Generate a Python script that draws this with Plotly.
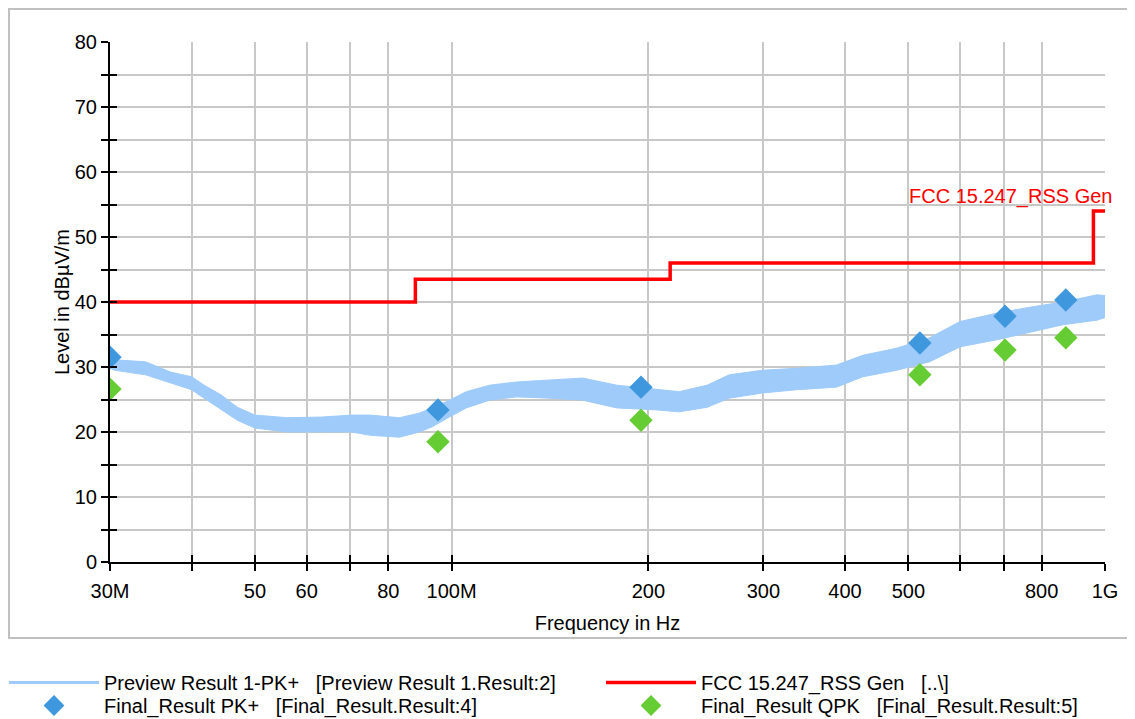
import numpy as np
import plotly.graph_objects as go

# ---------------- data ----------------
preview_freq_mhz = [30, 30.5, 34.0, 37.2, 40.0, 41.8, 44.4, 47.0, 50.0, 56.0, 63.2, 70.3, 75.0,
                    83.2, 89.2, 93.4, 99.2, 105.3, 114.3, 125.8, 141.3, 158.7, 179, 206, 223,
                    246, 266, 299, 337, 388, 426, 480, 539, 600, 684, 768, 862, 972, 1000]
preview_upper = [31.2, 31.1, 30.8, 29.2, 28.5, 27.2, 25.7, 23.8, 22.6, 22.2, 22.3, 22.6, 22.6,
                 22.2, 22.9, 23.7, 24.9, 26.2, 27.2, 27.7, 28.0, 28.3, 27.2, 26.5, 26.2,
                 27.2, 28.8, 29.5, 29.8, 30.3, 31.8, 32.9, 34.5, 37.0, 38.3, 39.2, 40.0, 41.1, 41.0]
preview_lower = [29.8, 29.5, 28.8, 27.5, 26.5, 25.2, 23.4, 21.8, 20.6, 20.0, 20.0, 20.0, 19.5,
                 19.2, 20.0, 20.8, 22.3, 23.7, 24.9, 25.4, 25.2, 24.9, 23.7, 23.4, 23.1,
                 23.8, 25.2, 26.0, 26.5, 26.9, 28.5, 29.5, 30.8, 33.1, 34.2, 35.4, 36.5, 37.2, 37.6]

limit_freq_mhz = [30, 88, 88, 216, 216, 960, 960, 1000]
limit_level = [40, 40, 43.5, 43.5, 46, 46, 54, 54]

final_freq_mhz = [30.0, 95.3, 194.9, 520.8, 703.0, 871.0]
final_pk = [31.5, 23.4, 26.9, 33.7, 37.8, 40.3]
final_qpk = [26.6, 18.5, 21.8, 28.8, 32.6, 34.5]

x_tick_mhz = [30, 40, 50, 60, 70, 80, 100, 200, 300, 400, 500, 600, 700, 800, 1000]
x_tick_text = ["30M", "", "50", "60", "", "80", "100M", "200", "300", "400", "500", "", "", "800", "1G"]
y_tick_vals = list(range(0, 81, 5))
y_tick_text = [str(v) if v % 10 == 0 else "" for v in y_tick_vals]

# ---------------- figure ----------------
MHZ = 1e6
pf = np.array(preview_freq_mhz) * MHZ
lf = np.array(limit_freq_mhz) * MHZ
ff = np.array(final_freq_mhz) * MHZ
xt = np.array(x_tick_mhz) * MHZ

FONT = "Liberation Sans, Arial, sans-serif"
BAND = "#9ecbfa"
FS = 20

# the page body adds an 8px offset; positions below are page positions minus that offset
OFF = 8
PL, PR, PT, PB = 110 - OFF, 1105 - OFF, 42 - OFF, 562 - OFF
PW, PH = PR - PL, PB - PT


def px_x(p):
    return (p - OFF - PL) / PW


def px_y(p):
    return (PB - (p - OFF)) / PH


fig = go.Figure()

fig.add_trace(go.Scatter(x=pf, y=preview_lower, mode="lines", line=dict(color=BAND, width=1),
                         showlegend=False, hoverinfo="skip"))
fig.add_trace(go.Scatter(x=pf, y=preview_upper, mode="lines", line=dict(color=BAND, width=1),
                         fill="tonexty", fillcolor=BAND, showlegend=False, hoverinfo="skip"))
# legend entry for preview trace
fig.add_trace(go.Scatter(x=[None], y=[None], mode="lines", line=dict(color=BAND, width=3),
                         name="Preview Result 1-PK+   [Preview Result 1.Result:2]", legend="legend"))
fig.add_trace(go.Scatter(x=lf, y=limit_level, mode="lines", line=dict(color="#ff0000", width=3.5),
                         name="FCC 15.247_RSS Gen   [..\\]", legend="legend2"))
fig.add_trace(go.Scatter(x=ff, y=final_pk, mode="markers",
                         marker=dict(symbol="diamond", size=18, color="#3f98dd"),
                         name="Final_Result PK+   [Final_Result.Result:4]", legend="legend3"))
fig.add_trace(go.Scatter(x=ff, y=final_qpk, mode="markers",
                         marker=dict(symbol="diamond", size=18, color="#66cc33"),
                         name="Final_Result QPK   [Final_Result.Result:5]", legend="legend4"))
# invisible trace to activate the overlay axes (inner half of crossing ticks)
fig.add_trace(go.Scatter(x=lf, y=limit_level, xaxis="x2", yaxis="y2", mode="lines",
                         line=dict(width=0), opacity=0, showlegend=False, hoverinfo="skip"))

fig.add_annotation(x=np.log10(lf[-1]), y=limit_level[-1], xref="x", yref="y",
                   text="FCC 15.247_RSS Gen", showarrow=False, xanchor="right", yanchor="bottom",
                   xshift=9, yshift=1, font=dict(color="#ff0000", size=FS, family=FONT))

xr = [np.log10(30e6), np.log10(1e9)]
common_x = dict(type="log", range=xr, tickmode="array", tickvals=xt)
common_y = dict(range=[0, 80], tickmode="array", tickvals=y_tick_vals)


def leg(xp, yp):
    return dict(orientation="v", x=px_x(xp), y=px_y(yp), xanchor="left", yanchor="top",
                itemwidth=90, font=dict(size=FS, family=FONT, color="black"),
                bgcolor="rgba(0,0,0,0)", borderwidth=0)


fig.update_layout(
    width=1135, height=719,
    margin=dict(l=PL, r=1135 - PR, t=PT, b=719 - PB, autoexpand=False),
    paper_bgcolor="white", plot_bgcolor="white",
    font=dict(family=FONT, size=FS, color="black"),
    xaxis=dict(**common_x, ticktext=x_tick_text, showgrid=True, gridcolor="#c8c8c8", gridwidth=1.5,
               showline=True, linecolor="black", linewidth=2, ticks="outside", ticklen=7,
               tickwidth=1.5, tickcolor="black", ticklabelstandoff=3, zeroline=False,
               tickfont=dict(size=FS),
               title=dict(text="Frequency in Hz", font=dict(size=FS), standoff=15)),
    yaxis=dict(**common_y, ticktext=y_tick_text, showgrid=True, gridcolor="#c8c8c8", gridwidth=1.5,
               showline=True, linecolor="black", linewidth=2, ticks="outside", ticklen=7,
               tickwidth=1.5, tickcolor="black", zeroline=False, tickfont=dict(size=FS),
               title=dict(text="Level in dBµV/m", font=dict(size=FS), standoff=0)),
    xaxis2=dict(**common_x, overlaying="x", anchor="y2", side="bottom", showgrid=False,
                showticklabels=False, ticks="inside", ticklen=7, tickwidth=1.5, tickcolor="black",
                showline=False, zeroline=False),
    yaxis2=dict(**common_y, overlaying="y", anchor="x2", side="left", showgrid=False,
                showticklabels=False, ticks="inside", ticklen=7, tickwidth=1.5, tickcolor="black",
                showline=False, zeroline=False),
    legend=leg(4, 663),
    legend2=leg(601, 663),
    legend3=leg(4, 686),
    legend4=leg(601, 686),
    showlegend=True,
)

# outer frame
fig.add_shape(type="rect", xref="paper", yref="paper",
              x0=px_x(9), x1=px_x(1130), y0=px_y(638), y1=px_y(9),
              line=dict(color="#c0c0c0", width=2), layer="below")

fig.write_html("out.html")
